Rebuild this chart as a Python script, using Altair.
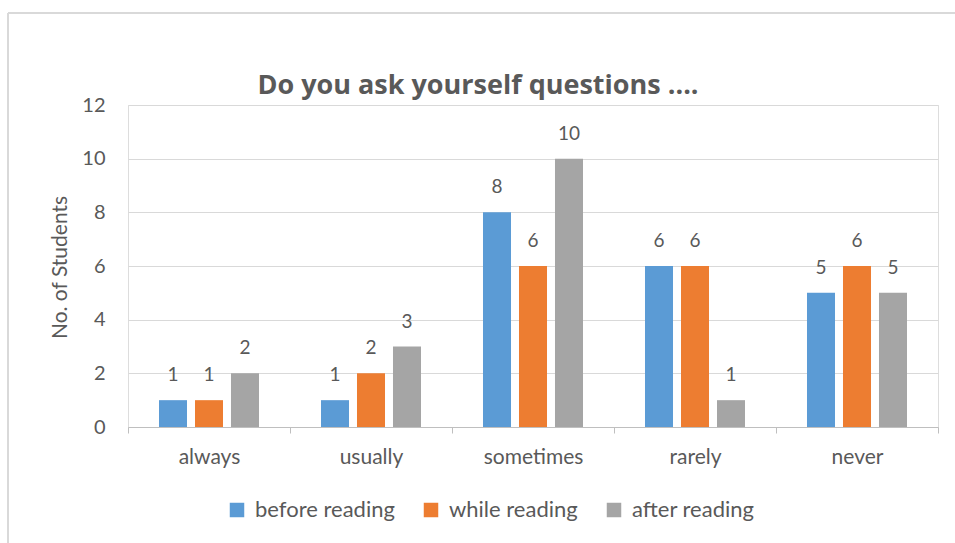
import altair as alt
import pandas as pd

# Survey answers (x categories) and the three reading stages (series)
answers = ["always", "usually", "sometimes", "rarely", "never"]
stages = ["before reading", "while reading", "after reading"]
before_reading = [1, 1, 8, 6, 5]
while_reading = [1, 2, 6, 6, 6]
after_reading = [2, 3, 10, 1, 5]
y_ticks = [0, 2, 4, 6, 8, 10, 12]
stage_colors = ["#5B9BD5", "#ED7D31", "#A5A5A5"]

TEXT = "#595959"
FONT = "Lato"

rows = []
for stage, values in zip(stages, [before_reading, while_reading, after_reading]):
    for answer, v in zip(answers, values):
        rows.append({"answer": answer, "stage": stage, "students": v})
df = pd.DataFrame(rows)

base = alt.Chart(df).encode(
    x=alt.X(
        "answer:N",
        sort=answers,
        scale=alt.Scale(paddingInner=0, paddingOuter=0),
        axis=alt.Axis(
            title=None,
            labelAngle=0,
            labelFont=FONT,
            labelFontSize=21,
            labelColor=TEXT,
            labelPadding=13,
            domainColor="#BFBFBF",
            tickColor="#BFBFBF",
            tickSize=6,
            tickBand="extent",
            grid=False,
        ),
    ),
    xOffset=alt.XOffset(
        "stage:N",
        sort=stages,
        scale=alt.Scale(paddingInner=0.222, paddingOuter=0.861),
    ),
    y=alt.Y(
        "students:Q",
        scale=alt.Scale(domain=[0, 12], nice=False),
        axis=alt.Axis(
            title="No. of Students",
            values=y_ticks,
            titleFont=FONT,
            titleFontSize=21,
            titleFontWeight="normal",
            titleColor=TEXT,
            titleX=-68,
            titleY=162,
            titleBaseline="middle",
            labelFont=FONT,
            labelFontSize=20,
            labelColor=TEXT,
            labelPadding=23,
            domain=False,
            ticks=False,
            tickSize=0,
            grid=True,
            gridColor="#D9D9D9",
            gridWidth=1,
        ),
    ),
)

bars = base.mark_bar().encode(
    color=alt.Color(
        "stage:N",
        sort=stages,
        scale=alt.Scale(domain=stages, range=stage_colors),
        legend=alt.Legend(
            title=None,
            orient="none",
            direction="horizontal",
            legendX=98,
            legendY=394,
            symbolType="square",
            symbolSize=210,
            symbolStrokeWidth=0,
            labelFont=FONT,
            labelFontSize=22,
            labelColor=TEXT,
            labelOffset=7,
            columnPadding=25,
        ),
    )
)

labels = base.mark_text(
    baseline="alphabetic", dy=-19, font=FONT, fontSize=19, color=TEXT
).encode(text="students:Q")

# chart-area frame (top and left edges)
frame_df = pd.DataFrame({"k": [0]})
top_edge = alt.Chart(frame_df).mark_rule(color="#D9D9D9", strokeWidth=2).encode(
    x=alt.value(-120), x2=alt.value(830), y=alt.value(-92)
)
left_edge = alt.Chart(frame_df).mark_rule(color="#D9D9D9", strokeWidth=2).encode(
    x=alt.value(-120), y=alt.value(-92), y2=alt.value(440)
)

chart = (
    alt.layer(top_edge, left_edge, bars, labels)
    .properties(
        width=810,
        height=322,
        autosize=alt.AutoSizeParams(type="none"),
        padding={"left": 128, "top": 105, "right": 17, "bottom": 116},
        title=alt.TitleParams(
            "Do you ask yourself questions ....",
            font="Open Sans",
            fontSize=27,
            fontWeight="bold",
            color=TEXT,
            anchor="middle",
            frame="group",
            baseline="alphabetic",
            offset=12,
            dx=-55,
            dy=121,
        ),
    )
    .configure_view(strokeWidth=0)
    .configure(background="white")
)

chart.save("out.html", embed_options={"renderer": "svg", "actions": False})
